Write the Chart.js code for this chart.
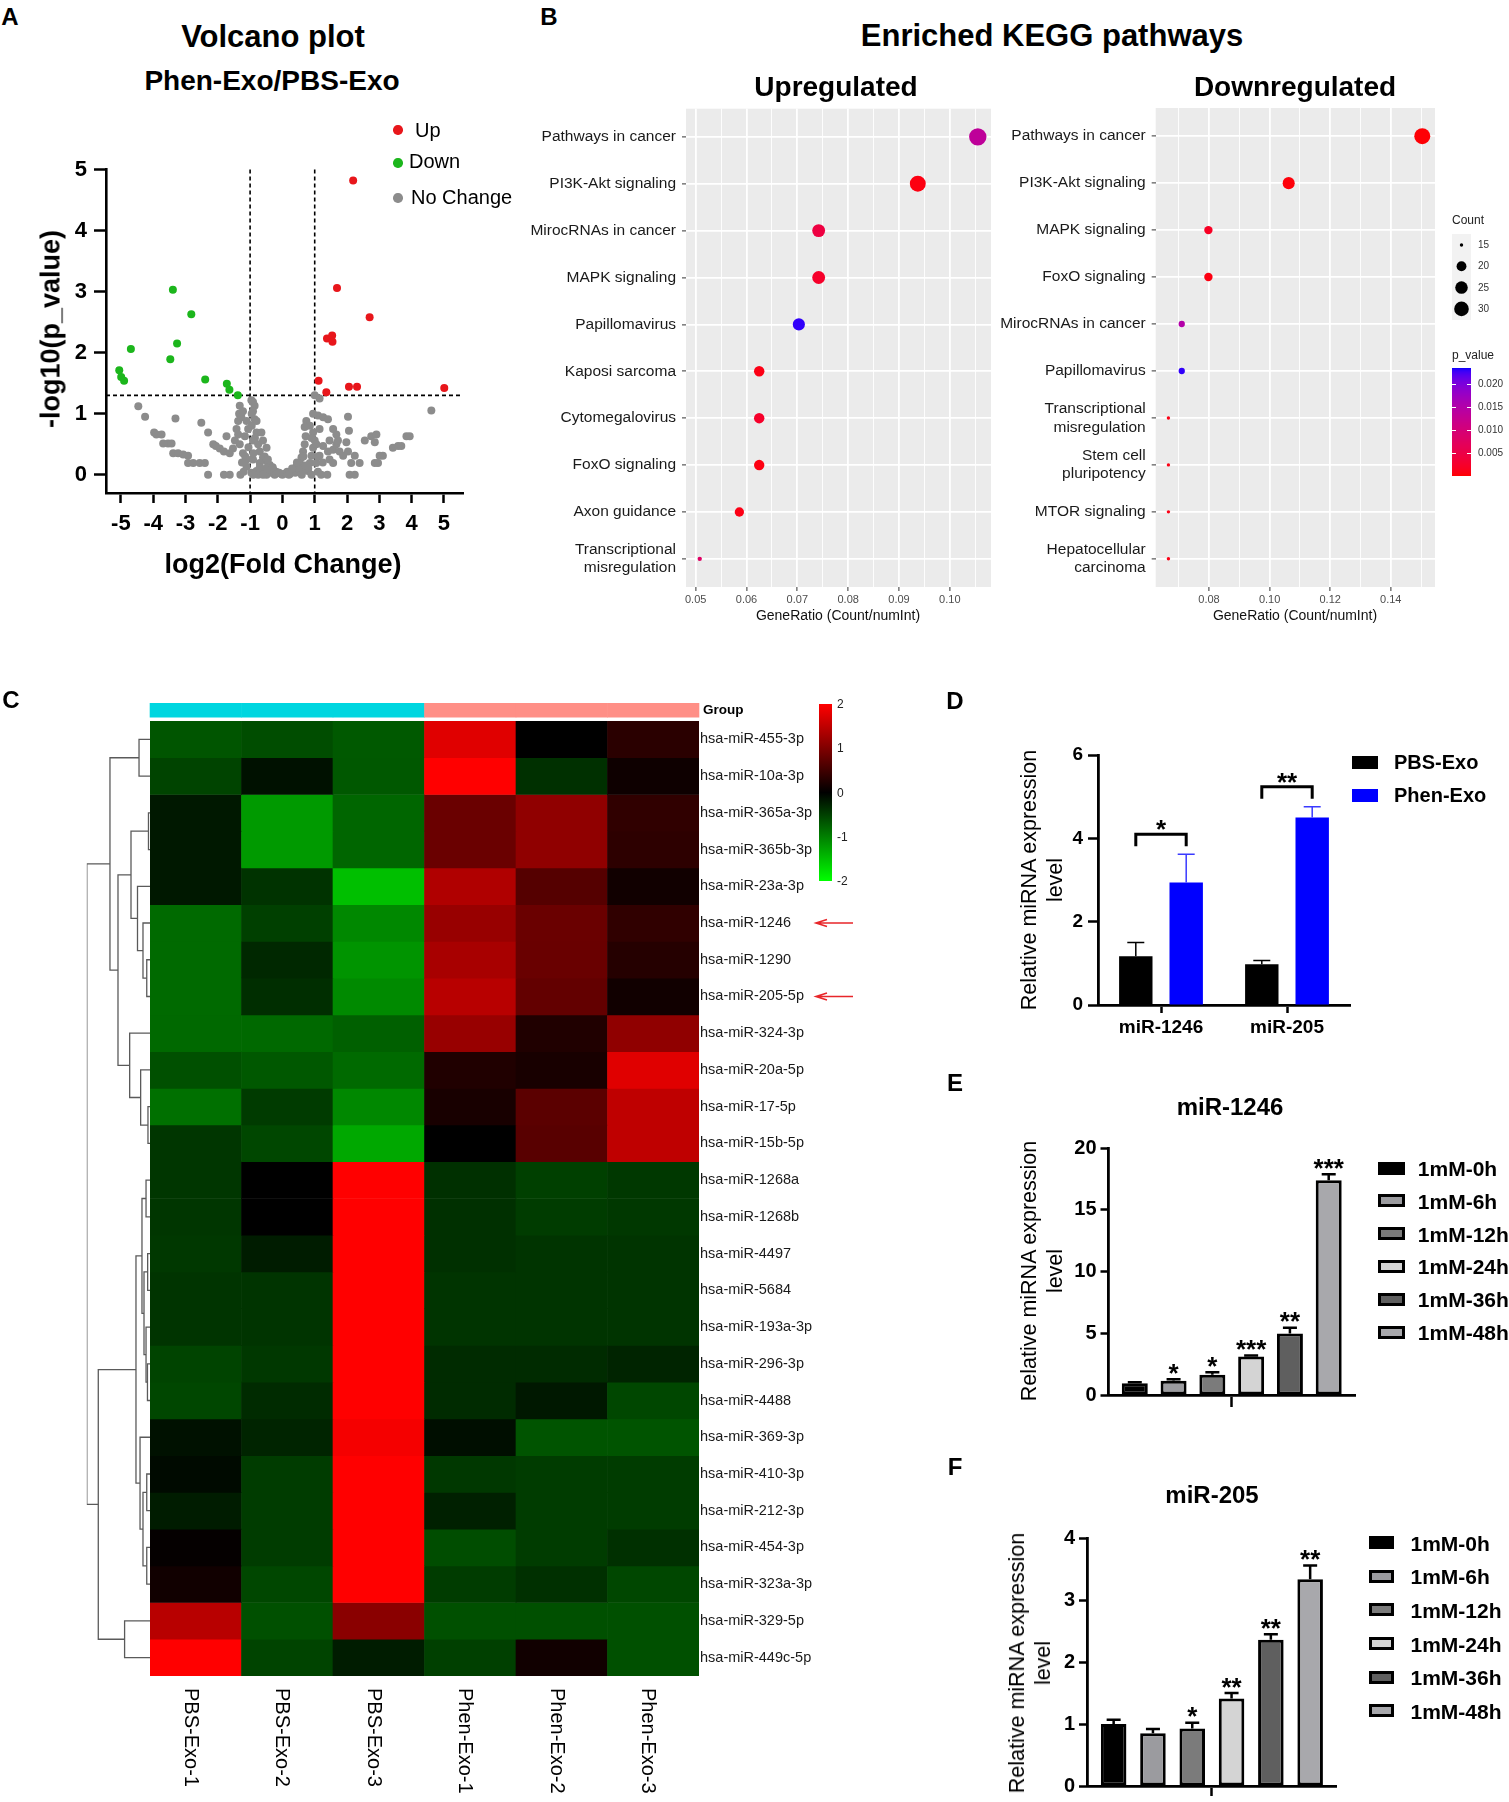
<!DOCTYPE html>
<html>
<head>
<meta charset="utf-8">
<title>Phen-Exo miRNA figure</title>
<script src="https://cdn.jsdelivr.net/npm/chart.js@4.4.1/dist/chart.umd.min.js"></script>
<style>
  html, body { margin: 0; padding: 0; background: #fff; }
  body { position: relative; width: 1509px; height: 1802px; overflow: hidden; font-family: "Liberation Sans", Arial, sans-serif; }
  canvas { position: absolute; }
  .t { position: absolute; white-space: nowrap; line-height: 1; color: #000; }
  .sw { position: absolute; box-sizing: border-box; }
</style>
</head>
<body>
<canvas id="volcano"></canvas>
<canvas id="keggUp"></canvas>
<canvas id="keggDown"></canvas>
<canvas id="heat"></canvas>
<canvas id="dendro"></canvas>
<canvas id="barD"></canvas>
<canvas id="barE"></canvas>
<canvas id="barF"></canvas>
<script>
// ---------- A: volcano ----------
const VOLC_X_TICKS = [-5, -4, -3, -2, -1, 0, 1, 2, 3, 4, 5];
const VOLC_Y_TICKS = [0, 1, 2, 3, 4, 5];
const FC_CUT = 1;
const P_CUT = 1.3;
const UP_POINTS = [[2.19, 4.82], [1.69, 3.06], [2.70, 2.58], [1.38, 2.23], [1.54, 2.28], [1.55, 2.18],
  [1.12, 1.54], [1.36, 1.35], [2.06, 1.44], [2.31, 1.44], [5.01, 1.42]];
const DOWN_POINTS = [[-3.39, 3.03], [-2.82, 2.63], [-4.69, 2.06], [-3.26, 2.15], [-3.47, 1.89], [-5.05, 1.71],
  [-4.99, 1.60], [-4.90, 1.54], [-2.39, 1.56], [-1.72, 1.49], [-1.64, 1.39], [-1.38, 1.30]];
const NOCHANGE_POINTS = [
  [-4.46, 1.12], [-4.25, 0.95], [-3.97, 0.69], [-3.90, 0.66], [-3.74, 0.66], [-3.69, 0.51], [-3.54, 0.51],
  [-3.43, 0.51], [-3.31, 0.92], [-3.38, 0.35], [-3.23, 0.35], [-3.07, 0.33], [-2.92, 0.31], [-2.92, 0.19],
  [-2.76, 0.19], [-2.56, 0.19], [-2.40, 0.19], [-2.30, 0], [-2.51, 0.85], [-2.30, 0.69], [-2.14, 0.50],
  [-2.06, 0.47], [-1.94, 0.43], [-1.81, 0.38], [-1.73, 0.63], [-1.81, 0], [-1.63, 0], [-1.63, 0.35],
  [-1.53, 0.43], [-1.47, 0.56], [-1.42, 0.75], [-1.37, 0.88], [-1.34, 1.00], [-1.32, 1.13], [-1.37, 0.66],
  [-1.27, 0.94], [-1.22, 1.04], [-1.11, 0.88], [-1.06, 0.75], [-1.16, 0.63], [-1.32, 0.50], [-1.22, 0.35],
  [-1.11, 0.25], [-0.96, 1.22], [-0.91, 1.19], [-0.86, 1.13], [-0.91, 1.04], [-0.86, 0.91], [-0.80, 0.88],
  [-0.80, 0.69], [-0.91, 0.56], [-0.75, 0.50], [-0.70, 0.38], [-0.60, 0.28], [-0.49, 0.22], [-0.39, 0.16],
  [-0.29, 0.09], [-0.19, 0.05], [-0.03, 0.01], [-0.91, 0.25], [-0.70, 0.19], [-0.55, 0.09], [-0.39, 0.03],
  [-1.11, 0.13], [-0.96, 0.03], [-0.75, 0], [-0.49, 0], [-0.24, 0], [-0.60, 0.56], [-0.49, 0.44], [-0.65, 0.69],
  [0.23, 0.01], [0.33, 0.06], [0.43, 0.13], [0.54, 0.19], [0.59, 0.28], [0.64, 0.38], [0.69, 0.50], [0.72, 0.63],
  [0.69, 0.78], [0.74, 0.88], [0.79, 0.06], [0.85, 0.19], [0.90, 0.31], [0.95, 0.44], [1.00, 0.56], [0.95, 0.69],
  [1.00, 1.30], [1.10, 0.97], [1.15, 1.25], [1.26, 0.94], [1.41, 0.91], [1.15, 0.75], [1.05, 0.19], [1.15, 0.31],
  [1.26, 0.47], [1.41, 0.38], [1.46, 0.25], [1.57, 0.41], [1.67, 0.50], [1.72, 0.56], [1.77, 0.38], [1.57, 0.19],
  [1.39, 0], [1.88, 0.31], [2.03, 0.38], [2.03, 0.95], [2.06, 0.72], [2.08, 0], [2.24, 0], [2.24, 0.31],
  [2.39, 0.19], [2.55, 0.56], [2.75, 0.63], [2.91, 0.66], [2.86, 0.53], [3.01, 0.31], [2.86, 0.19], [2.96, 0.19],
  [3.11, 0.31], [3.42, 0.44], [3.58, 0.47], [3.68, 0.47], [3.84, 0.63], [3.94, 0.63], [4.61, 1.05], [1.57, 0.75],
  [1.46, 0.56], [1.98, 0.53], [1.67, 0.66], [2.13, 0.19],
  [-0.80, 0.06], [-0.60, 0.05], [-0.40, 0.08], [-0.20, 0.02], [0, 0], [0.10, 0.02], [0.40, 0.03], [0.60, 0.05],
  [0.80, 0.10], [-0.70, 0.12], [-0.50, 0.10], [0.50, 0.10], [0.70, 0.15], [-0.90, 0.35], [-0.85, 0.60],
  [-0.95, 0.80], [0.90, 0.60], [0.85, 0.80], [0.95, 1.00], [-0.95, 1.00], [0.65, 0.30], [-0.55, 0.30],
  [0.30, 0.10], [-0.30, 0.12], [0.15, 0.05], [-0.10, 0.03], [0.45, 0.20], [-0.45, 0.25], [0.20, 0], [-0.60, 0],
  [0.60, 0], [0.90, 0], [-0.90, 0], [1.10, 0.05], [1.20, 0], [-1.20, 0.05], [-1.30, 0], [1.05, 0.50],
  [1.10, 0.30], [-1.05, 0.45], [-1.15, 0.30], [1.25, 0.20], [-1.25, 0.20]];

// ---------- B: KEGG ----------
const UP_PATHWAYS = ['Pathways in cancer', 'PI3K-Akt signaling', 'MirocRNAs in cancer', 'MAPK signaling',
  'Papillomavirus', 'Kaposi sarcoma', 'Cytomegalovirus', 'FoxO signaling', 'Axon guidance',
  ['Transcriptional', 'misregulation']];
const UP_RATIO = [0.1055, 0.0937, 0.0742, 0.0742, 0.0703, 0.0625, 0.0625, 0.0625, 0.0586, 0.0508];
const UP_COUNT = [27, 24, 19, 19, 18, 16, 16, 16, 15, 13];
const UP_PVAL = [0.0135, 0.0008, 0.0045, 0.0025, 0.0230, 0.0010, 0.0025, 0.0008, 0.0010, 0.0080];
const UP_X_TICKS = [0.05, 0.06, 0.07, 0.08, 0.09, 0.10];

const DOWN_PATHWAYS = ['Pathways in cancer', 'PI3K-Akt signaling', 'MAPK signaling', 'FoxO signaling',
  'MirocRNAs in cancer', 'Papillomavirus', ['Transcriptional', 'misregulation'], ['Stem cell', 'pluripotency'],
  'MTOR signaling', ['Hepatocellular', 'carcinoma']];
const DOWN_RATIO = [0.1504, 0.1063, 0.0798, 0.0798, 0.0710, 0.0710, 0.0666, 0.0666, 0.0666, 0.0666];
const DOWN_COUNT = [34, 24, 18, 18, 16, 16, 15, 15, 15, 15];
const DOWN_PVAL = [0.0003, 0.0005, 0.0020, 0.0008, 0.0150, 0.0230, 0.0010, 0.0010, 0.0010, 0.0010];
const DOWN_X_TICKS = [0.08, 0.10, 0.12, 0.14];

const COUNT_BREAKS = [15, 20, 25, 30];
const P_BREAKS = [0.005, 0.010, 0.015, 0.020];
const P_MIN = 0.00013;
const P_MAX = 0.0235;

// ---------- C: heatmap ----------
const SAMPLES = ['PBS-Exo-1', 'PBS-Exo-2', 'PBS-Exo-3', 'Phen-Exo-1', 'Phen-Exo-2', 'Phen-Exo-3'];
const SAMPLE_GROUP = ['PBS-Exo', 'PBS-Exo', 'PBS-Exo', 'Phen-Exo', 'Phen-Exo', 'Phen-Exo'];
const MIRNAS = ['hsa-miR-455-3p', 'hsa-miR-10a-3p', 'hsa-miR-365a-3p', 'hsa-miR-365b-3p', 'hsa-miR-23a-3p',
  'hsa-miR-1246', 'hsa-miR-1290', 'hsa-miR-205-5p', 'hsa-miR-324-3p', 'hsa-miR-20a-5p', 'hsa-miR-17-5p',
  'hsa-miR-15b-5p', 'hsa-miR-1268a', 'hsa-miR-1268b', 'hsa-miR-4497', 'hsa-miR-5684', 'hsa-miR-193a-3p',
  'hsa-miR-296-3p', 'hsa-miR-4488', 'hsa-miR-369-3p', 'hsa-miR-410-3p', 'hsa-miR-212-3p', 'hsa-miR-454-3p',
  'hsa-miR-323a-3p', 'hsa-miR-329-5p', 'hsa-miR-449c-5p'];
const HEAT_Z = [
  [-0.67, -0.60, -0.70, 1.76, 0.00, 0.33],
  [-0.53, -0.13, -0.69, 2.00, -0.38, 0.11],
  [-0.19, -1.21, -0.80, 0.83, 1.13, 0.38],
  [-0.19, -1.21, -0.80, 0.83, 1.13, 0.35],
  [-0.19, -0.40, -1.50, 1.38, 0.67, 0.13],
  [-0.83, -0.50, -1.07, 1.19, 0.83, 0.38],
  [-0.83, -0.31, -1.16, 1.32, 0.82, 0.29],
  [-0.83, -0.36, -1.08, 1.44, 0.78, 0.13],
  [-0.82, -0.82, -0.75, 1.19, 0.25, 1.13],
  [-0.63, -0.69, -0.83, 0.25, 0.19, 1.76],
  [-0.88, -0.46, -1.07, 0.19, 0.71, 1.50],
  [-0.42, -0.56, -1.32, 0.00, 0.69, 1.50],
  [-0.42, 0.00, 2.00, -0.38, -0.50, -0.44],
  [-0.42, 0.00, 2.00, -0.38, -0.47, -0.44],
  [-0.44, -0.22, 2.00, -0.38, -0.41, -0.41],
  [-0.41, -0.41, 2.00, -0.41, -0.41, -0.41],
  [-0.41, -0.41, 2.00, -0.41, -0.41, -0.41],
  [-0.53, -0.44, 2.00, -0.34, -0.34, -0.28],
  [-0.56, -0.34, 2.00, -0.34, -0.19, -0.56],
  [-0.13, -0.28, 1.92, -0.11, -0.66, -0.66],
  [-0.08, -0.47, 2.00, -0.44, -0.47, -0.47],
  [-0.22, -0.47, 2.00, -0.25, -0.47, -0.47],
  [0.04, -0.47, 2.00, -0.60, -0.47, -0.38],
  [0.13, -0.56, 2.00, -0.47, -0.38, -0.56],
  [1.44, -0.63, 1.08, -0.63, -0.63, -0.63],
  [2.00, -0.53, -0.22, -0.50, 0.13, -0.63]];
const MARKED = ['hsa-miR-1246', 'hsa-miR-205-5p'];
const HEAT_KEY_TICKS = [2, 1, 0, -1, -2];
// row tree: [left, right, height], leaves are row indices
const DENDRO = [
  [[0, 1, 1.08],
   [[[2, 3, 0.15], [4, [5, [6, 7, 0.32], 0.69], 1.23], 1.87],
    [8, [9, [10, 11, 0.2], 0.92], 2.0], 3.15], 3.94],
  [[[[12, 13, 0.39], [[14, 15, 0.23], [16, [17, 18, 0.25], 0.39], 0.59], 0.79],
    [19, [[20, 21, 0.32], [22, 23, 0.32], 0.69], 0.98], 1.38],
   [24, 25, 2.5], 5.09],
  6.22];

// ---------- D: qPCR ----------
const D_GENES = ['miR-1246', 'miR-205'];
const D_PBS = [1.17, 0.98];
const D_PBS_SD = [0.33, 0.09];
const D_PHEN = [2.94, 4.50];
const D_PHEN_SD = [0.68, 0.26];
const D_SIG = ['*', '**'];
const D_Y_TICKS = [0, 2, 4, 6];

// ---------- E / F: time course ----------
const TIME_LABELS = ['1mM-0h', '1mM-6h', '1mM-12h', '1mM-24h', '1mM-36h', '1mM-48h'];
const E_MEAN = [0.95, 1.15, 1.65, 3.12, 4.98, 17.4];
const E_SD = [0.08, 0.12, 0.2, 0.08, 0.48, 0.5];
const E_SIG = ['', '*', '*', '***', '**', '***'];
const E_Y_TICKS = [0, 5, 10, 15, 20];
const F_MEAN = [1.0, 0.85, 0.93, 1.415, 2.36, 3.34];
const F_SD = [0.07, 0.07, 0.09, 0.085, 0.09, 0.22];
const F_SIG = ['', '', '*', '**', '**', '**'];
const F_Y_TICKS = [0, 1, 2, 3, 4];

// ---------- look ----------
const VOLC_COLORS = { up: '#E8161B', down: '#1CB61C', none: '#8C8C8C' };
const D_COLORS = ['#000000', '#0000FF'];
const TIME_FILLS = ['#000000', '#9B9B9F', '#7B7B7B', '#D4D4D4', '#5F5F5F', '#A8A8AC'];
const GROUP_COLORS = { 'PBS-Exo': '#00D6E0', 'Phen-Exo': '#FF8F86' };

Chart.defaults.font.family = "'Liberation Sans', Arial, sans-serif";
Chart.defaults.color = '#000';
Chart.defaults.animation = false;
Chart.defaults.responsive = false;
Chart.defaults.events = [];
Chart.defaults.plugins.legend.display = false;
Chart.defaults.plugins.tooltip.enabled = false;

function place(id, left, top, w, h) {
  const c = document.getElementById(id);
  c.width = w; c.height = h;
  c.style.left = left + 'px'; c.style.top = top + 'px';
  c.style.width = w + 'px'; c.style.height = h + 'px';
  return c;
}

function text(str, x, y, o = {}) {
  const d = document.createElement('div');
  d.className = 't';
  d.innerHTML = str;
  d.style.left = x + 'px';
  d.style.top = y + 'px';
  d.style.fontSize = (o.size || 14) + 'px';
  if (o.bold) d.style.fontWeight = 'bold';
  if (o.color) d.style.color = o.color;
  if (o.lh) d.style.lineHeight = o.lh + 'px';
  if (o.center) d.style.textAlign = 'center';
  let tf = o.left ? 'translate(0,-50%)' : 'translate(-50%,-50%)';
  if (o.rot) tf += ' rotate(' + o.rot + 'deg)';
  d.style.transform = tf;
  document.body.appendChild(d);
  return d;
}

function swatch(x, y, w, h, fill, border) {
  const d = document.createElement('div');
  d.className = 'sw';
  d.style.left = x + 'px'; d.style.top = y + 'px';
  d.style.width = w + 'px'; d.style.height = h + 'px';
  d.style.background = fill;
  if (border) d.style.border = border;
  document.body.appendChild(d);
  return d;
}

function dot(x, y, r, color) {
  const d = swatch(x - r, y - r, 2 * r, 2 * r, color);
  d.style.borderRadius = '50%';
}

// CIELAB blend used by ggplot's red -> blue gradient
function toLin(c) { c /= 255; return c <= 0.04045 ? c / 12.92 : Math.pow((c + 0.055) / 1.055, 2.4); }
function fromLin(c) {
  c = c <= 0.0031308 ? 12.92 * c : 1.055 * Math.pow(c, 1 / 2.4) - 0.055;
  return Math.round(Math.max(0, Math.min(1, c)) * 255);
}
function rgbToLab(rgb) {
  const [r, g, b] = rgb.map(toLin);
  const f = t => t > 0.008856 ? Math.cbrt(t) : 7.787 * t + 16 / 116;
  const x = f((0.4124 * r + 0.3576 * g + 0.1805 * b) / 0.95047);
  const y = f(0.2126 * r + 0.7152 * g + 0.0722 * b);
  const z = f((0.0193 * r + 0.1192 * g + 0.9505 * b) / 1.08883);
  return [116 * y - 16, 500 * (x - y), 200 * (y - z)];
}
function labToRgb([L, a, bb]) {
  const fi = t => t * t * t > 0.008856 ? t * t * t : (t - 16 / 116) / 7.787;
  const y = fi((L + 16) / 116), x = fi(a / 500 + (L + 16) / 116) * 0.95047, z = fi((L + 16) / 116 - bb / 200) * 1.08883;
  return [3.2406 * x - 1.5372 * y - 0.4986 * z, -0.9689 * x + 1.8758 * y + 0.0415 * z, 0.0557 * x - 0.2040 * y + 1.0570 * z].map(fromLin);
}
const LAB_LOW = rgbToLab([255, 0, 0]);
const LAB_HIGH = rgbToLab([0, 0, 255]);
function pColor(p) {
  const t = Math.max(0, Math.min(1, (p - P_MIN) / (P_MAX - P_MIN)));
  const c = labToRgb(LAB_LOW.map((v, i) => v + (LAB_HIGH[i] - v) * t));
  return 'rgb(' + c.join(',') + ')';
}
function sizeScale(cmin, cmax, rmin, rmax) {
  return c => rmin + Math.sqrt(Math.max(0, (c - cmin) / (cmax - cmin))) * (rmax - rmin);
}
const sizeUp = sizeScale(Math.min(...UP_COUNT), Math.max(...UP_COUNT), 2.2, 8.7);
const sizeDown = sizeScale(Math.min(...DOWN_COUNT), Math.max(...DOWN_COUNT), 1.7, 8);

function heatColor(v) {
  const t = Math.max(-2, Math.min(2, v)) / 2;
  return t >= 0 ? 'rgb(' + Math.round(255 * t) + ',0,0)' : 'rgb(0,' + Math.round(-255 * t) + ',0)';
}

const axisBlack = (len, w) => ({ display: true, drawOnChartArea: false, offset: false, tickLength: len, tickWidth: w, tickColor: '#000' });

// ---------- A ----------
const threshLines = {
  id: 'thresh',
  beforeDatasetsDraw(chart) {
    const { ctx, chartArea: a, scales: { x, y } } = chart;
    ctx.save();
    ctx.setLineDash([4, 3]);
    ctx.lineWidth = 1.6;
    ctx.strokeStyle = '#000';
    const yTop = y.getPixelForValue(VOLC_Y_TICKS[VOLC_Y_TICKS.length - 1]);
    [-FC_CUT, FC_CUT].forEach(v => {
      const px = x.getPixelForValue(v);
      ctx.beginPath(); ctx.moveTo(px, yTop); ctx.lineTo(px, a.bottom); ctx.stroke();
    });
    const py = y.getPixelForValue(P_CUT);
    ctx.beginPath(); ctx.moveTo(a.left, py); ctx.lineTo(a.right - 3, py); ctx.stroke();
    ctx.restore();
  }
};
const toXY = pts => pts.map(p => ({ x: p[0], y: p[1] }));
new Chart(place('volcano', 0, 100, 520, 480), {
  type: 'scatter',
  data: {
    datasets: [
      { label: 'Up', data: toXY(UP_POINTS), backgroundColor: VOLC_COLORS.up },
      { label: 'Down', data: toXY(DOWN_POINTS), backgroundColor: VOLC_COLORS.down },
      { label: 'No Change', data: toXY(NOCHANGE_POINTS), backgroundColor: VOLC_COLORS.none }
    ]
  },
  options: {
    elements: { point: { radius: 4, borderWidth: 0 } },
    layout: { padding: { left: 0, right: 57, top: 69.5, bottom: 0 } },
    scales: {
      x: {
        type: 'linear', min: -5.46, max: 5.59, z: 1,
        afterBuildTicks: s => { s.ticks = VOLC_X_TICKS.map(v => ({ value: v })); },
        afterFit: s => { s.height = 87; },
        grid: axisBlack(10, 2.5), border: { color: '#000', width: 2.6 },
        ticks: { autoSkip: false, maxRotation: 0, padding: 8, font: { size: 22, weight: 'bold' }, callback: v => String(v) }
      },
      y: {
        type: 'linear', min: -0.3, max: 5, z: 1,
        afterBuildTicks: s => { s.ticks = VOLC_Y_TICKS.map(v => ({ value: v })); },
        afterFit: s => { s.width = 106; s.paddingTop = 0; s.paddingBottom = 0; },
        grid: axisBlack(12, 2.5), border: { color: '#000', width: 2.6 },
        ticks: { padding: 7, font: { size: 22, weight: 'bold' }, callback: v => String(v) }
      }
    }
  },
  plugins: [threshLines]
});
text('A', 10, 17, { size: 24, bold: true });
text('Volcano plot', 273, 36, { size: 31, bold: true });
text('Phen-Exo/PBS-Exo', 272, 81, { size: 28, bold: true });
text('-log10(p_value)', 51, 329, { size: 27, bold: true, rot: -90 });
text('log2(Fold Change)', 283, 564, { size: 27, bold: true });
dot(398, 130, 4.7, VOLC_COLORS.up); text('Up', 415, 130, { size: 20, left: true });
dot(398, 163, 4.7, VOLC_COLORS.down); text('Down', 409, 161, { size: 20, left: true });
dot(398, 198, 4.7, VOLC_COLORS.none); text('No Change', 411, 197, { size: 20, left: true });

// ---------- B ----------
const panelBg = {
  id: 'panelBg',
  beforeDraw(chart) {
    const a = chart.chartArea, ctx = chart.ctx;
    ctx.save(); ctx.fillStyle = '#EBEBEB';
    ctx.fillRect(a.left, a.top, a.right - a.left, a.bottom - a.top);
    ctx.restore();
  }
};
function kegg(id, left, w, yW, padR, cfg) {
  const step = cfg.xMajor[1] - cfg.xMajor[0];
  const minors = cfg.xMajor.map(v => v + step / 2).concat([cfg.xMajor[0] - step / 2])
    .filter(v => v > cfg.xmin && v < cfg.xmax);
  const majorKeys = new Set(cfg.xMajor.map(v => v.toFixed(4)));
  const isMajor = v => majorKeys.has(v.toFixed(4));
  const allTicks = cfg.xMajor.concat(minors).sort((a, b) => a - b);
  return new Chart(place(id, left, 100, w, 530), {
    type: 'scatter',
    data: {
      datasets: [{
        data: cfg.ratio.map((r, i) => ({ x: r, y: i })),
        pointRadius: c => cfg.size(cfg.count[c.dataIndex]),
        backgroundColor: c => pColor(cfg.pval[c.dataIndex]),
        borderWidth: 0
      }]
    },
    options: {
      layout: { padding: { left: 0, right: padR, top: 6, bottom: 0 } },
      scales: {
        x: {
          type: 'linear', min: cfg.xmin, max: cfg.xmax,
          afterBuildTicks: s => { s.ticks = allTicks.map(v => ({ value: v })); },
          afterFit: s => { s.height = 43; s.paddingLeft = 0; s.paddingRight = 0; },
          grid: {
            color: '#fff', lineWidth: c => isMajor(c.tick.value) ? 1.8 : 0.9, tickLength: 4, tickWidth: 1,
            tickColor: c => isMajor(c.tick.value) ? '#333' : 'rgba(0,0,0,0)'
          },
          border: { display: false },
          ticks: { autoSkip: false, maxRotation: 0, padding: 2, color: '#4d4d4d', font: { size: 11 }, callback: v => isMajor(v) ? v.toFixed(2) : '' }
        },
        y: {
          type: 'linear', min: -0.6, max: cfg.labels.length - 0.4, reverse: true,
          afterBuildTicks: s => { s.ticks = cfg.labels.map((_, i) => ({ value: i })); },
          afterFit: s => { s.width = yW; s.paddingTop = 0; s.paddingBottom = 0; },
          grid: { color: '#fff', lineWidth: 1.8, tickLength: 4, tickColor: '#333', tickWidth: 1 },
          border: { display: false },
          ticks: { autoSkip: false, padding: 6, color: '#1a1a1a', font: { size: 15.5 }, callback: (v, i) => cfg.labels[i] }
        }
      }
    },
    plugins: [panelBg].concat(cfg.extra || [])
  });
}

// legend geometry (down canvas coordinates)
const KEY_X = 452, KEY_W = 19, CB_TOP = 268, CB_BOT = 376;
const pY = p => CB_BOT - (p - P_MIN) / (P_MAX - P_MIN) * (CB_BOT - CB_TOP);
const keggLegend = {
  id: 'keggLegend',
  afterDraw(chart) {
    const ctx = chart.ctx;
    ctx.save();
    ctx.fillStyle = '#F2F2F2';
    ctx.fillRect(KEY_X, 134, KEY_W, 86);
    ctx.fillStyle = '#000';
    COUNT_BREAKS.forEach((c, i) => {
      ctx.beginPath(); ctx.arc(KEY_X + KEY_W / 2, 145 + i * 21.3, sizeDown(c), 0, 2 * Math.PI); ctx.fill();
    });
    for (let yy = CB_TOP; yy < CB_BOT; yy++) {
      const p = P_MAX - (yy + 0.5 - CB_TOP) / (CB_BOT - CB_TOP) * (P_MAX - P_MIN);
      ctx.fillStyle = pColor(p);
      ctx.fillRect(KEY_X, yy, KEY_W, 1);
    }
    ctx.strokeStyle = '#fff'; ctx.lineWidth = 1;
    P_BREAKS.forEach(p => {
      const yy = Math.round(pY(p)) + 0.5;
      ctx.beginPath();
      ctx.moveTo(KEY_X, yy); ctx.lineTo(KEY_X + 4, yy);
      ctx.moveTo(KEY_X + KEY_W - 4, yy); ctx.lineTo(KEY_X + KEY_W, yy);
      ctx.stroke();
    });
    ctx.restore();
  }
};

kegg('keggUp', 520, 480, 166, 9, {
  labels: UP_PATHWAYS, ratio: UP_RATIO, count: UP_COUNT, pval: UP_PVAL, size: sizeUp,
  xmin: 0.0481, xmax: 0.1081, xMajor: UP_X_TICKS
});
kegg('keggDown', 1000, 509, 155.7, 74, {
  labels: DOWN_PATHWAYS, ratio: DOWN_RATIO, count: DOWN_COUNT, pval: DOWN_PVAL, size: sizeDown,
  xmin: 0.0624, xmax: 0.1546, xMajor: DOWN_X_TICKS, extra: [keggLegend]
});
text('B', 549, 17, { size: 24, bold: true });
text('Enriched KEGG pathways', 1052, 35, { size: 31, bold: true });
text('Upregulated', 836, 87, { size: 28, bold: true });
text('Downregulated', 1295, 87, { size: 28, bold: true });
text('GeneRatio (Count/numInt)', 838, 614.5, { size: 14, color: '#111' });
text('GeneRatio (Count/numInt)', 1295, 614.5, { size: 14, color: '#111' });
text('Count', 1452, 220, { size: 12, left: true, color: '#222' });
COUNT_BREAKS.forEach((c, i) => text(String(c), 1478, 245 + i * 21.3, { size: 10, left: true, color: '#333' }));
text('p_value', 1452, 354.5, { size: 12, left: true, color: '#222' });
P_BREAKS.forEach(p => text(p.toFixed(3), 1478, 100 + pY(p), { size: 10, left: true, color: '#333' }));

// ---------- C ----------
const HEAT_TOP = 690;
const heatDecor = {
  id: 'heatDecor',
  afterDraw(chart) {
    const { ctx, scales: { x, y }, chartArea: a } = chart;
    const colW = (a.right - a.left) / SAMPLES.length;
    ctx.save();
    SAMPLES.forEach((s, i) => {
      ctx.fillStyle = GROUP_COLORS[SAMPLE_GROUP[i]];
      ctx.fillRect(x.getPixelForValue(i) - colW / 2 - 0.3, 13, colW + 0.6, 14.5);
    });
    // colour key
    const g = ctx.createLinearGradient(0, 14, 0, 191);
    g.addColorStop(0, '#FF0000'); g.addColorStop(0.5, '#000000'); g.addColorStop(1, '#00FF00');
    ctx.fillStyle = g;
    ctx.fillRect(819, 14, 13, 177);
    // arrows at marked rows
    ctx.strokeStyle = '#E8262A'; ctx.lineWidth = 1.6;
    MARKED.forEach(name => {
      const py = y.getPixelForValue(MIRNAS.indexOf(name) + 0.5);
      ctx.beginPath();
      ctx.moveTo(853, py); ctx.lineTo(816, py);
      ctx.moveTo(827, py - 3.5); ctx.lineTo(816, py); ctx.lineTo(827, py + 3.5);
      ctx.stroke();
    });
    ctx.restore();
  }
};
const heatChart = new Chart(place('heat', 0, HEAT_TOP, 940, 1000), {
  type: 'bar',
  data: {
    labels: SAMPLES,
    datasets: HEAT_Z.map((row, r) => ({
      data: row.map(() => [r, r + 1]),
      backgroundColor: row.map(heatColor),
      borderWidth: 0, grouped: false, barPercentage: 1, categoryPercentage: 1
    }))
  },
  options: {
    layout: { padding: { left: 150, right: 0, top: 31, bottom: 14 } },
    scales: {
      x: { display: false },
      y: {
        position: 'right', min: 0, max: MIRNAS.length, reverse: true,
        grid: { display: false, drawTicks: false, tickLength: 0 }, border: { display: false },
        afterBuildTicks: s => { s.ticks = MIRNAS.map((_, i) => ({ value: i + 0.5 })); },
        afterFit: s => { s.width = 241; s.paddingTop = 0; s.paddingBottom = 0; },
        ticks: { autoSkip: false, padding: 1, color: '#1a1a1a', font: { size: 14.5 }, callback: (v, i) => MIRNAS[i] }
      }
    }
  },
  plugins: [heatDecor]
});

const dendroSegs = [];
function walk(node) {
  if (typeof node === 'number') return { y: node + 0.5, h: 0 };
  const a = walk(node[0]), b = walk(node[1]), h = node[2];
  dendroSegs.push([{ x: a.h, y: a.y }, { x: h, y: a.y }, { x: h, y: b.y }, { x: b.h, y: b.y }]);
  return { y: (a.y + b.y) / 2, h: h };
}
const dendroRoot = walk(DENDRO);
new Chart(place('dendro', 80, HEAT_TOP, 72, 1000), {
  type: 'scatter',
  data: {
    datasets: dendroSegs.map(s => ({ data: s, showLine: true, pointRadius: 0, borderColor: '#5a5a5a', borderWidth: 1.3 }))
  },
  options: {
    layout: { padding: { left: 6.8, right: 2, top: 31, bottom: 14 } },
    scales: {
      x: { display: false, type: 'linear', min: 0, max: dendroRoot.h, reverse: true },
      y: { display: false, type: 'linear', min: 0, max: MIRNAS.length, reverse: true }
    }
  }
});

text('C', 11, 700, { size: 24, bold: true });
text('Group', 703, 710, { size: 13.5, bold: true, left: true });
HEAT_KEY_TICKS.forEach(v => text(String(v), 837, 704 + (2 - v) / 4 * 177, { size: 12, left: true, color: '#222' }));
SAMPLES.forEach((s, i) => {
  const cx = heatChart.scales.x.getPixelForValue(i);
  const d = text(s, cx + 6, 1688, { size: 20 });
  d.style.transformOrigin = '0 0';
  d.style.transform = 'rotate(90deg)';
});

// ---------- D / E / F ----------
function starText(ctx, str, x, centerY, size) {
  ctx.font = 'bold ' + size + 'px "Liberation Sans", Arial, sans-serif';
  ctx.textAlign = 'center';
  ctx.textBaseline = 'alphabetic';
  ctx.fillStyle = '#000';
  ctx.fillText(str, x, centerY + 0.58 * size);
}
function errorBars(o) {
  return {
    id: 'errorBars',
    afterDatasetsDraw(chart) {
      const ctx = chart.ctx, ys = chart.scales.y;
      ctx.save();
      chart.data.datasets.forEach((ds, di) => {
        chart.getDatasetMeta(di).data.forEach((bar, j) => {
          const yTop = ys.getPixelForValue(ds.data[j] + ds.sd[j]);
          ctx.strokeStyle = ds.whisker || '#000';
          ctx.lineWidth = o.lw;
          ctx.beginPath();
          ctx.moveTo(bar.x, bar.y); ctx.lineTo(bar.x, yTop);
          ctx.moveTo(bar.x - o.cap / 2, yTop); ctx.lineTo(bar.x + o.cap / 2, yTop);
          ctx.stroke();
          if (ds.sig && ds.sig[j]) starText(ctx, ds.sig[j], bar.x, yTop - 12.5, o.star);
        });
      });
      ctx.restore();
    }
  };
}
const brackets = {
  id: 'brackets',
  afterDatasetsDraw(chart) {
    const ctx = chart.ctx, ys = chart.scales.y;
    const m0 = chart.getDatasetMeta(0), m1 = chart.getDatasetMeta(1);
    ctx.save();
    ctx.strokeStyle = '#000'; ctx.lineWidth = 3;
    D_GENES.forEach((g, j) => {
      const topVal = Math.max(D_PBS[j] + D_PBS_SD[j], D_PHEN[j] + D_PHEN_SD[j]);
      const yb = ys.getPixelForValue(topVal) - 20;
      const x0 = m0.data[j].x, x1 = m1.data[j].x;
      ctx.beginPath();
      ctx.moveTo(x0, yb + 12); ctx.lineTo(x0, yb); ctx.lineTo(x1, yb); ctx.lineTo(x1, yb + 12);
      ctx.stroke();
      starText(ctx, D_SIG[j], (x0 + x1) / 2, yb - 11, 26);
    });
    ctx.restore();
  }
};

new Chart(place('barD', 940, 690, 569, 370), {
  type: 'bar',
  data: {
    labels: D_GENES,
    datasets: [
      { label: 'PBS-Exo', data: D_PBS, sd: D_PBS_SD, backgroundColor: D_COLORS[0], whisker: D_COLORS[0] },
      { label: 'Phen-Exo', data: D_PHEN, sd: D_PHEN_SD, backgroundColor: D_COLORS[1], whisker: '#3a3aff' }
    ]
  },
  options: {
    datasets: { bar: { categoryPercentage: 0.8, barPercentage: 0.663, borderWidth: 0 } },
    layout: { padding: { left: 0, right: 159, top: 65, bottom: 0 } },
    scales: {
      x: {
        z: 1, grid: axisBlack(8, 2.5), border: { color: '#000', width: 2.8 },
        afterFit: s => { s.height = 55; },
        ticks: { padding: 3, font: { size: 19, weight: 'bold' } }
      },
      y: {
        z: 1, min: 0, max: 6,
        afterBuildTicks: s => { s.ticks = D_Y_TICKS.map(v => ({ value: v })); },
        afterFit: s => { s.width = 158; },
        grid: axisBlack(10, 2.5), border: { color: '#000', width: 2.8 },
        ticks: { padding: 5, font: { size: 19, weight: 'bold' } }
      }
    }
  },
  plugins: [errorBars({ cap: 17, lw: 1.5, star: 26 }), brackets]
});
text('D', 955, 701, { size: 24, bold: true });
text('Relative miRNA expression<br>level', 1041.5, 880, { size: 21.5, lh: 26, center: true, rot: -90 });
swatch(1352, 755.5, 26, 13, D_COLORS[0]); text('PBS-Exo', 1394, 762, { size: 20, bold: true, left: true });
swatch(1352, 788.5, 26, 13, D_COLORS[1]); text('Phen-Exo', 1394, 795, { size: 20, bold: true, left: true });

function timeChart(id, top, h, cfg) {
  return new Chart(place(id, 940, top, 569, h), {
    type: 'bar',
    data: {
      labels: [''],
      datasets: TIME_LABELS.map((lab, i) => ({
        label: lab, data: [cfg.mean[i]], sd: [cfg.sd[i]], sig: [cfg.sig[i]],
        backgroundColor: TIME_FILLS[i], borderColor: '#000', borderWidth: 3, borderSkipped: false
      }))
    },
    options: {
      datasets: { bar: { categoryPercentage: 0.944, barPercentage: cfg.barPct } },
      layout: { padding: { left: 0, right: cfg.padR, top: cfg.padT, bottom: 0 } },
      scales: {
        x: {
          z: 1, grid: axisBlack(cfg.xTick, 2.5), border: { color: '#000', width: 2.8 },
          afterFit: s => { s.height = cfg.xH; }, ticks: { padding: 0 }
        },
        y: {
          z: 1, min: 0, max: cfg.ticks[cfg.ticks.length - 1],
          afterBuildTicks: s => { s.ticks = cfg.ticks.map(v => ({ value: v })); },
          afterFit: s => { s.width = cfg.yW; },
          grid: axisBlack(8, 2.5), border: { color: '#000', width: 2.8 },
          ticks: { padding: 4, font: { size: 20, weight: 'bold' } }
        }
      }
    },
    plugins: [errorBars({ cap: 14, lw: 2.5, star: 26 })]
  });
}
timeChart('barE', 1065, 370, { mean: E_MEAN, sd: E_SD, sig: E_SIG, ticks: E_Y_TICKS, barPct: 0.67, padR: 154, padT: 83.3, yW: 168.5, xH: 40, xTick: 12 });
timeChart('barF', 1445, 357, { mean: F_MEAN, sd: F_SD, sig: F_SIG, ticks: F_Y_TICKS, barPct: 0.65, padR: 172.2, padT: 93.3, yW: 147, xH: 12, xTick: 10 });

text('E', 955, 1083, { size: 24, bold: true });
text('miR-1246', 1230, 1107, { size: 24, bold: true });
text('Relative miRNA expression<br>level', 1042, 1271, { size: 21.5, lh: 26, center: true, rot: -90 });
TIME_LABELS.forEach((lab, i) => {
  const cy = 1168 + i * 32.8;
  swatch(1377.6, cy - 6.5, 27.4, 13, TIME_FILLS[i], '3px solid #000');
  text(lab, 1417.8, cy, { size: 21, bold: true, left: true });
});

text('F', 955, 1467, { size: 24, bold: true });
text('miR-205', 1212, 1495, { size: 24, bold: true });
text('Relative miRNA expression<br>level', 1030, 1663, { size: 21.5, lh: 26, center: true, rot: -90 });
TIME_LABELS.forEach((lab, i) => {
  const cy = 1542.7 + i * 33.6;
  swatch(1368.5, cy - 6.5, 25.5, 13, TIME_FILLS[i], '3px solid #000');
  text(lab, 1410.5, cy, { size: 21, bold: true, left: true });
});
</script>
</body>
</html>
